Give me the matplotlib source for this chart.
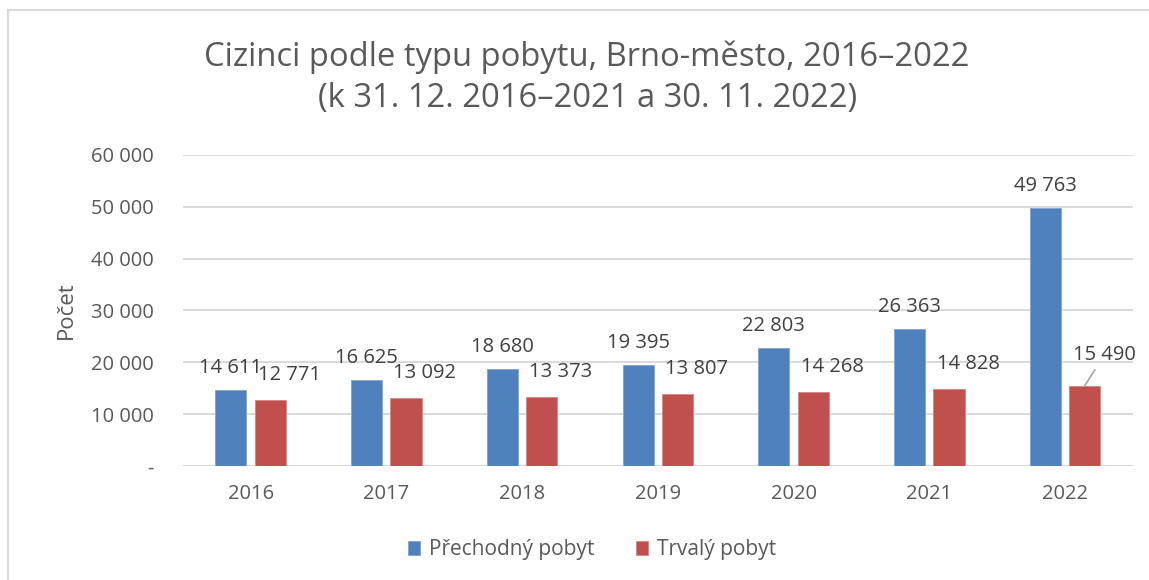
import numpy as np
import matplotlib.pyplot as plt
from matplotlib.lines import Line2D

plt.rcParams['font.family'] = ['Open Sans', 'DejaVu Sans']

years = ["2016", "2017", "2018", "2019", "2020", "2021", "2022"]
prechodny = [14611, 16625, 18680, 19395, 22803, 26363, 49763]
trvaly = [12771, 13092, 13373, 13807, 14268, 14828, 15490]
series_names = ["Přechodný pobyt", "Trvalý pobyt"]
title = "Cizinci podle typu pobytu, Brno-město, 2016–2022\n(k 31. 12. 2016–2021 a 30. 11. 2022)"

blue = "#4f81bd"
red = "#c0504d"
grey_text = "#595959"
label_text = "#404040"


def fmt(v):
    return f"{v:,}".replace(",", " ")


fig = plt.figure(figsize=(11.49, 5.80), dpi=100)
ax = fig.add_axes([0.159, 0.1966, 0.827, 0.5362])

x = np.arange(len(years))
w = 0.23
bars_p = ax.bar(x - 0.145, prechodny, w, color=blue, edgecolor="#7fa3d1", linewidth=0.6,
                label=series_names[0], zorder=3)
bars_t = ax.bar(x + 0.145, trvaly, w, color=red, edgecolor="#d98583", linewidth=0.6,
                label=series_names[1], zorder=3)

ax.set_xlim(-0.5, len(years) - 0.5)
ax.set_ylim(0, 60000)
ax.set_yticks(np.arange(0, 60001, 10000))
ax.set_yticklabels(["-"] + [fmt(v) for v in range(10000, 60001, 10000)])
ax.set_xticks(x)
ax.set_xticklabels(years)
ax.tick_params(axis="both", length=0, labelsize=14.5, colors=grey_text)
ax.tick_params(axis="y", pad=21)
ax.tick_params(axis="x", pad=13)
ax.grid(axis="y", color="#d9d9d9", linewidth=1.4, zorder=0)
for s in ax.spines.values():
    s.set_visible(False)
ax.set_ylabel("Počet", fontsize=16, color=grey_text, labelpad=10)

# data labels
for b, v in zip(bars_p, prechodny):
    ax.annotate(fmt(v), (b.get_x() + b.get_width() / 2, v), xytext=(0, 12),
                textcoords="offset pixels", ha="center", va="bottom",
                fontsize=14.5, color=label_text, zorder=4)
for i, (b, v) in enumerate(zip(bars_t, trvaly)):
    if i == len(trvaly) - 1:
        ax.annotate(fmt(v), (b.get_x() + b.get_width() / 2, v), xytext=(20, 21),
                    textcoords="offset pixels", ha="center", va="bottom",
                    fontsize=14.5, color=label_text, zorder=4,
                    arrowprops=dict(arrowstyle="-", color="#a6a6a6", lw=1.2,
                                    shrinkA=2, shrinkB=0))
    else:
        ax.annotate(fmt(v), (b.get_x() + b.get_width() / 2, v), xytext=(19, 15),
                    textcoords="offset pixels", ha="center", va="bottom",
                    fontsize=14.5, color=label_text, zorder=4)

fig.text(0.511, 0.866, title, ha="center", va="center", fontsize=23.6,
         color=grey_text, linespacing=1.35)

fig.legend(loc="center", bbox_to_anchor=(0.515, 0.052), ncol=2, frameon=False,
           fontsize=15, labelcolor=grey_text, handlelength=0.6, handleheight=0.6,
           columnspacing=2.0, handletextpad=0.4)

# chart border (top and left edges visible)
fig.add_artist(Line2D([8 / 1149, 1.0], [1 - 10 / 580, 1 - 10 / 580],
                      transform=fig.transFigure, color="#d9d9d9", linewidth=1.5))
fig.add_artist(Line2D([8 / 1149, 8 / 1149], [0.0, 1 - 10 / 580],
                      transform=fig.transFigure, color="#d9d9d9", linewidth=1.5))

fig.savefig("out.png", dpi=100)
